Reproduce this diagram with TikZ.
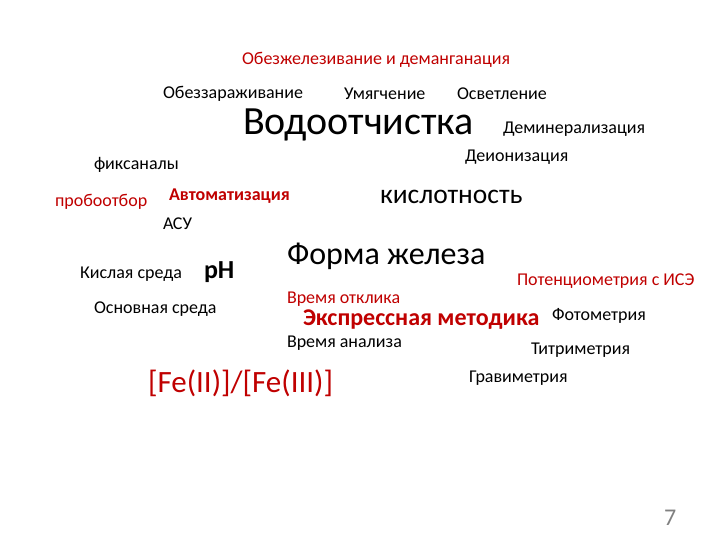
\documentclass[tikz,border=0pt]{standalone}
\usepackage{fontspec}
\setmainfont{Carlito}
\definecolor{red1}{RGB}{192,0,0}
\definecolor{gray7}{RGB}{128,128,128}
\tikzset{w/.style={anchor=west,inner sep=0pt,outer sep=0pt,yshift=-2pt},
  sm/.style={w,font=\fontsize{18}{18}\selectfont},
  smr/.style={sm,text=red1}}
\begin{document}
\begin{tikzpicture}[x=1pt,y=-1pt]
\useasboundingbox[fill=white] (0,0) rectangle (720,540);
\node[smr] (t1) at (242,58) {Обезжелезивание и деманганация};
\node[sm] (t2) at (163,92) {Обеззараживание};
\node[sm] (t3) at (344,92) {Умягчение};
\node[sm] (t4) at (457,92) {Осветление};
\node[w,font=\fontsize{40}{40}\selectfont] (t5) at (243,123) {Водоотчистка};
\node[sm] (t6) at (503,127) {Деминерализация};
\node[sm] (t7) at (465,155) {Деионизация};
\node[sm] (t8) at (94,163) {фиксаналы};
\node[smr] (t9) at (55,200) {пробоотбор};
\node[smr,font=\fontsize{18}{18}\selectfont\bfseries] (t10) at (169,194) {Автоматизация};
\node[w,font=\fontsize{27.5}{27.5}\selectfont] (t11) at (380,195) {кислотность};
\node[sm] (t12) at (163,222) {АСУ};
\node[sm] (t13) at (80,272) {Кислая среда};
\node[w,font=\fontsize{26}{26}\selectfont\bfseries] (t14) at (204,270) {pH};
\node[sm] (t15) at (94,307) {Основная среда};
\node[w,font=\fontsize{32}{32}\selectfont] (t16) at (287,254) {Форма железа};
\node[smr] (t17) at (517,279) {Потенциометрия с ИСЭ};
\node[smr] (t18) at (287,297) {Время отклика};
\node[w,text=red1,font=\fontsize{24}{24}\selectfont\bfseries] (t19) at (303,318) {Экспрессная методика};
\node[sm] (t20) at (552,314) {Фотометрия};
\node[sm] (t21) at (287,341) {Время анализа};
\node[sm] (t22) at (531,348) {Титриметрия};
\node[sm] (t23) at (469,376) {Гравиметрия};
\node[w,text=red1,font=\fontsize{31}{31}\selectfont] (t24) at (148,381) {[Fe(II)]/[Fe(III)]};
\node[w,text=gray7,font=\fontsize{24}{24}\selectfont] (t25) at (664,516) {7};
\end{tikzpicture}
\end{document}
